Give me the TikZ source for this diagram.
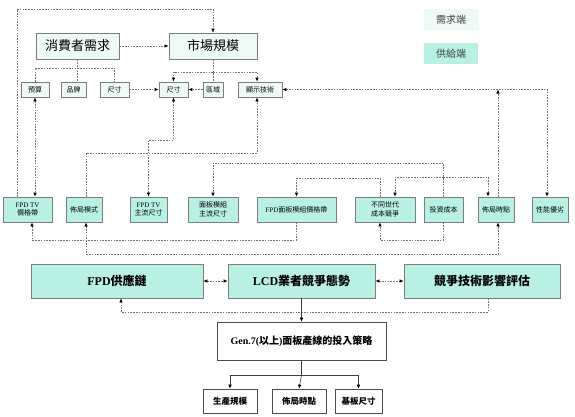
\documentclass[tikz,border=0pt]{standalone}
\usepackage{fontspec}
\setmainfont{Noto Sans CJK TC}
\newfontfamily\latf{Liberation Serif}
\usetikzlibrary{arrows.meta}
\definecolor{supfill}{RGB}{184,241,228}
\definecolor{demfill}{RGB}{238,250,248}
\definecolor{bord}{RGB}{125,125,125}
\definecolor{lncol}{RGB}{115,115,115}
\tikzset{
  box/.style={draw=bord, line width=0.9pt, inner sep=1pt, align=center, text=black,
    font=\fontsize{7}{8.5}\selectfont},
  dem/.style={box, fill=demfill},
  sup/.style={box, fill=supfill},
  plainbox/.style={box, fill=white, line width=0.7pt, draw=black!70},
  wh/.style n args={2}{minimum width=#1, minimum height=#2},
  big/.style={font=\fontsize{12}{13}\selectfont\bfseries},
  conn/.style={draw=lncol, line width=0.6pt, dash pattern=on 1.6pt off 1.2pt},
  solidc/.style={draw=black!75, line width=0.6pt},
  >={Latex[length=4pt,width=3.6pt,color=black]}
}
\begin{document}
\begin{tikzpicture}[x=1pt,y=-1pt]
\useasboundingbox (0,0) rectangle (575,416);
\fill[white] (0,0) rectangle (575,416);

% legend
\node[box, draw=demfill!70!cyan!40, dotted, fill=demfill, wh={54}{21}, font=\fontsize{10}{11}\selectfont, text=black!75] (leg1) at (451,19.5) {需求端};
\node[box, draw=none, fill=supfill, wh={54}{21}, font=\fontsize{10}{11}\selectfont, text=black!75] (leg2) at (451,53.5) {供給端};

% top row
\node[dem, wh={83}{26}, font=\fontsize{13}{14}\selectfont] (cons) at (77.5,46) {消費者需求};
\node[dem, wh={88}{26}, font=\fontsize{13}{14}\selectfont] (mkt) at (213,46) {市場規模};

% row 2
\node[dem, wh={28}{15}] (bud) at (35,89.5) {預算};
\node[dem, wh={25}{15}] (brand) at (73.5,89.5) {品牌};
\node[dem, wh={29}{15}] (sz1) at (114.5,89.5) {尺寸};
\node[dem, wh={29}{15}] (sz2) at (173.5,89.5) {尺寸};
\node[dem, wh={20}{15}] (reg) at (213,89.5) {區域};
\node[dem, wh={44}{15}] (disp) at (260,89.5) {顯示技術};

% row 3
\node[sup, wh={49}{25}] (tvp) at (27.5,209.5) {{\latf FPD TV}\\價格帶};
\node[sup, wh={36}{25}] (lay) at (84,209.5) {佈局模式};
\node[sup, wh={37}{25}] (tvs) at (148.5,209.5) {{\latf FPD TV}\\主流尺寸};
\node[sup, wh={50}{25}] (mods) at (213,209.5) {面板模組\\主流尺寸};
\node[sup, wh={79}{25}] (modp) at (296.5,209.5) {{\latf FPD}面板模組價格帶};
\node[sup, wh={60}{25}] (gen) at (385,209.5) {不同世代\\成本競爭};
\node[sup, wh={39}{25}] (inv) at (443.5,209.5) {投資成本};
\node[sup, wh={36}{25}] (tim) at (496,209.5) {佈局時點};
\node[sup, wh={36}{25}] (perf) at (550,209.5) {性能優劣};

% row 4
\node[sup, wh={172}{34}, big] (supc) at (117,281) {{\latf FPD}供應鏈};
\node[sup, wh={147}{34}, big] (lcd) at (301.5,281) {{\latf LCD}業者競爭態勢};
\node[sup, wh={156}{34}, big] (comp) at (482,281) {競爭技術影響評估};

% strategy
\node[plainbox, wh={169}{38}, font=\fontsize{10}{11}\selectfont\bfseries] (g7) at (301.5,341) {{\latf Gen.7(}以上{\latf )}面板產線的投入策略};
\node[plainbox, wh={54}{24}, font=\fontsize{8.5}{9}\selectfont\bfseries] (b1) at (230,401) {生產規模};
\node[plainbox, wh={54}{24}, font=\fontsize{8.5}{9}\selectfont\bfseries] (b2) at (299,401) {佈局時點};
\node[plainbox, wh={47}{24}, font=\fontsize{8.5}{9}\selectfont\bfseries] (b3) at (358.5,401) {基板尺寸};

% ---- connectors ----
\draw[conn,->] ([xshift=-10.5pt]tvp.north) -- ([xshift=-10.5pt]tvp.north |- 0,9) -- (mkt.north |- 0,9) -- (mkt.north);
\draw[conn,->] (cons) -- (mkt);
\draw[conn] (cons.south) -- (brand.north -| cons.south);
\draw[conn] (bud.north) -- (bud.north |- 0,68) -- (sz1.north |- 0,68) -- (sz1.north);
\draw[conn,->] (sz1) -- (sz2);
\draw[conn,->] (reg) -- (sz2);
\draw[conn] (mkt.south) -- (reg.north);
\draw[conn,->] (mkt.south |- 0,72) -| (sz2.north);
\draw[conn,->] (mkt.south |- 0,72) -| ([xshift=-3pt]disp.north);
\draw[conn,<->] (bud.south) -- (tvp.north -| bud.south);
\draw[conn,<->] (sz2.south) -- (sz2.south |- 0,140) -| (tvs.north);
\draw[conn,->] ([xshift=2pt]lay.north) -- ([xshift=2pt]lay.north |- 0,153) -| ([xshift=-3pt]disp.south);
\draw[conn,<->] (disp.east) -- (disp.east -| 547,0) -- ([xshift=-3pt]perf.north);
\draw[conn,->] ([xshift=2pt]tim.north) -- ([xshift=2pt]tim.north |- disp.east);
\draw[conn,->] (inv.north) -- (inv.north |- 0,163) -| (mods.north);
\draw[conn,->] ([xshift=-5pt]gen.north) -- ([xshift=-5pt]gen.north |- 0,178) -| (modp.north);
\draw[conn,->] (inv.north |- 0,177) -| ([xshift=10pt]gen.north);
\draw[conn,->] (inv.north |- 0,177) -| ([xshift=-8pt]tim.north);
\draw[conn,->] (inv.south) -- (inv.south |- 0,240) -| ([xshift=-5pt]gen.south);
\draw[conn,->] (modp.south) -- (modp.south |- 0,240) -| ([xshift=4.5pt]tvp.south);
\draw[conn,<->] ([xshift=2pt]lay.south) -- ([xshift=2pt]lay.south |- 0,254) -| ([xshift=2pt]tim.south);
\draw[conn,<->] (supc) -- (lcd);
\draw[conn,<->] (lcd) -- (comp);
\draw[conn,->] ([xshift=6pt]comp.south) -- ([xshift=6pt]comp.south |- 0,312) -| ([xshift=4pt]supc.south);
\draw[solidc,->] (lcd.south) -- (g7.north);
\draw[solidc] (g7.south) -- (g7.south |- 0,375);
\draw[solidc] (b1.north |- 0,375) -- (b3.north |- 0,375);
\draw[solidc,->] (b1.north |- 0,375) -- (b1.north);
\draw[solidc,->] (b3.north |- 0,375) -- (b3.north);
\draw[solidc,->] (g7.south |- 0,375) -- (b2.north);
\end{tikzpicture}
\end{document}
